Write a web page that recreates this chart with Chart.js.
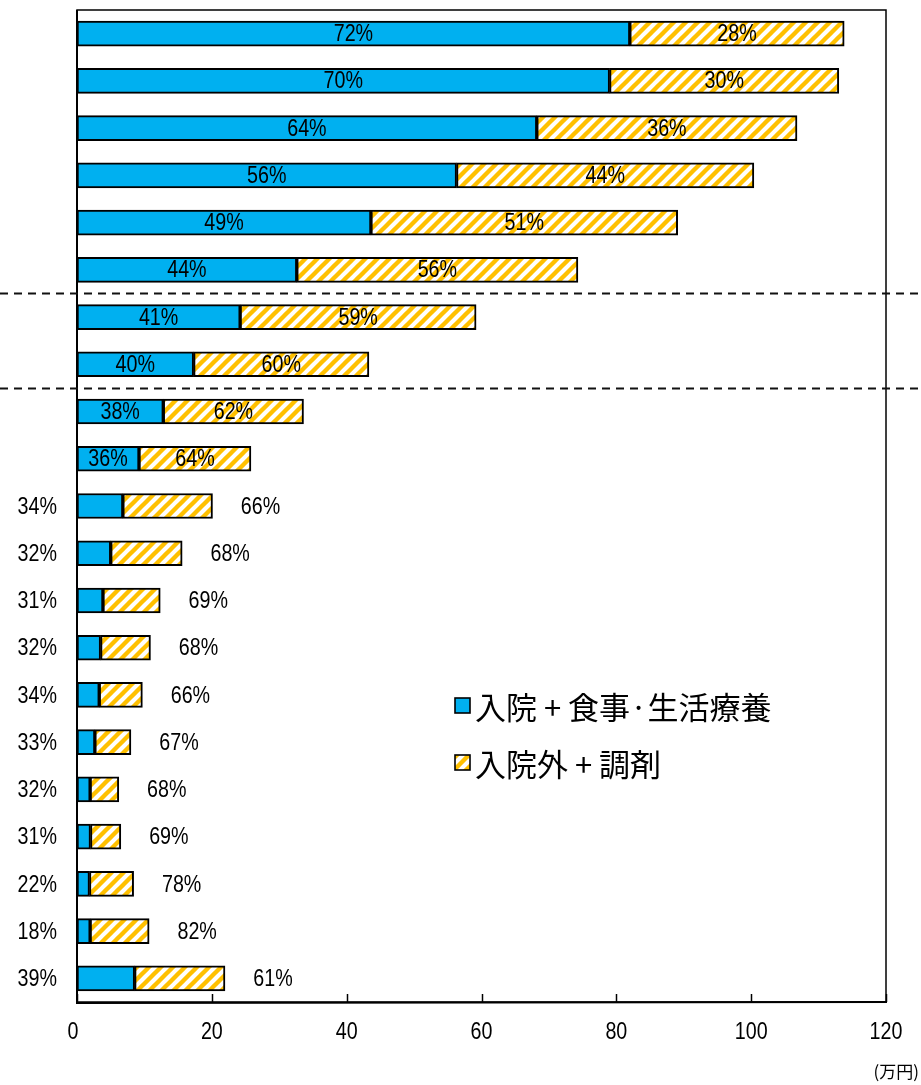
<!DOCTYPE html>
<html>
<head>
<meta charset="utf-8">
<script src="https://cdn.jsdelivr.net/npm/chart.js@4/dist/chart.umd.min.js"></script>
<style>
  html, body { margin: 0; padding: 0; background: #fff; }
  #wrap { position: relative; width: 921px; height: 1085px; }
  canvas { display: block; }
</style>
</head>
<body>
<div id="wrap"><canvas id="c" width="921" height="1085"></canvas></div>
<script>
// ---- data (万円) ----
const categories = ["1","2","3","4","5","6","7","8","9","10","11","12","13","14","15","16","17","18","19","20","21"];
const inpatientValues  = [82.0, 79.0, 68.2, 56.3, 43.6, 32.6, 24.2, 17.3, 12.8, 9.2, 6.8, 5.0, 3.85, 3.5, 3.3, 2.65, 1.95, 2.0, 1.85, 1.95, 8.55];
const outpatientValues = [31.8, 34.0, 38.6, 44.1, 45.5, 41.7, 35.0, 26.0, 20.8, 16.6, 13.3, 10.6, 8.5, 7.4, 6.4, 5.35, 4.25, 4.5, 6.55, 8.75, 13.4];
const inpatientPct  = ["72%","70%","64%","56%","49%","44%","41%","40%","38%","36%","34%","32%","31%","32%","34%","33%","32%","31%","22%","18%","39%"];
const outpatientPct = ["28%","30%","36%","44%","51%","56%","59%","60%","62%","64%","66%","68%","69%","68%","66%","67%","68%","69%","78%","82%","61%"];
const xTicks = [0, 20, 40, 60, 80, 100, 120];
const legendLabels = ["入院 + 食事·生活療養", "入院外 + 調剤"];
const unitLabel = "(万円)";
const dividerAfter = [5, 7];   // dashed separators after these category indexes
const insideLabelCount = 10;    // first N bars carry labels inside

const BLUE = "#00B0F0";
const ORANGE = "#FFC000";
const NUM_FONT = "'Liberation Sans', Arial, sans-serif";
const CJK_FONT = "'Noto Sans CJK JP', 'Noto Sans CJK SC', sans-serif";
const NARROW = 0.82;

function makeHatch() {
  const s = 12;
  const p = document.createElement("canvas");
  p.width = s; p.height = s;
  const g = p.getContext("2d");
  g.fillStyle = "#fff";
  g.fillRect(0, 0, s, s);
  g.strokeStyle = ORANGE;
  g.lineWidth = 4.4;
  g.lineCap = "square";
  for (let k = -1; k <= 1; k++) {
    g.beginPath();
    g.moveTo(k * s - 1, s + 1);
    g.lineTo(k * s + s + 1, -1);
    g.stroke();
  }
  return document.getElementById("c").getContext("2d").createPattern(p, "repeat");
}
const hatch = makeHatch();

function narrowText(ctx, text, x, y, align) {
  ctx.save();
  ctx.translate(x, y);
  ctx.scale(NARROW, 1);
  ctx.textAlign = align;
  ctx.fillText(text, 0, 0);
  ctx.restore();
}

const decor = {
  id: "decor",
  afterDatasetsDraw(chart) {
    const ctx = chart.ctx;
    const ca = chart.chartArea;
    const xs = chart.scales.x, ys = chart.scales.y;
    ctx.save();

    // frame
    ctx.strokeStyle = "#000";
    ctx.lineWidth = 1.5;
    ctx.strokeRect(ca.left, ca.top, ca.right - ca.left, ca.bottom - ca.top);
    ctx.lineWidth = 2;
    ctx.beginPath();
    ctx.moveTo(ca.left, ca.top); ctx.lineTo(ca.left, ca.bottom + 1); ctx.lineTo(ca.right + 1, ca.bottom);
    ctx.stroke();

    // inner tick marks + tick labels
    ctx.lineWidth = 1.5;
    ctx.fillStyle = "#000";
    ctx.font = "24px " + NUM_FONT;
    ctx.textBaseline = "middle";
    xs.ticks.forEach(t => {
      const px = xs.getPixelForValue(t.value);
      const x = Math.round(px) + 0.5;
      ctx.beginPath(); ctx.moveTo(x, ca.bottom); ctx.lineTo(x, ca.bottom - 8); ctx.stroke();
      narrowText(ctx, String(t.value), px - (t.value === 0 ? 4 : 0), ca.bottom + 30, "center");
    });

    // dashed separators
    ctx.setLineDash([8, 6]);
    ctx.lineWidth = 1.8;
    ctx.strokeStyle = "#111";
    dividerAfter.forEach(i => {
      const y = Math.round((ys.getPixelForValue(i) + ys.getPixelForValue(i + 1)) / 2) + 0.5;
      ctx.beginPath(); ctx.moveTo(0, y); ctx.lineTo(chart.width, y); ctx.stroke();
    });
    ctx.setLineDash([]);

    // value labels
    const m0 = chart.getDatasetMeta(0).data, m1 = chart.getDatasetMeta(1).data;
    ctx.fillStyle = "#000";
    ctx.font = "24px " + NUM_FONT;
    ctx.textBaseline = "middle";
    categories.forEach((c, i) => {
      const b0 = m0[i], b1 = m1[i];
      const y = b0.y + 1;
      if (i < insideLabelCount) {
        narrowText(ctx, inpatientPct[i], (b0.base + b0.x) / 2, y, "center");
        narrowText(ctx, outpatientPct[i], (b1.base + b1.x) / 2, y, "center");
      } else {
        narrowText(ctx, inpatientPct[i], 57, y, "right");
        narrowText(ctx, outpatientPct[i], b1.x + 48, y, "center");
      }
    });

    // legend
    const lx = 455, ly = [706, 763];
    [BLUE, hatch].forEach((fill, k) => {
      ctx.fillStyle = fill;
      ctx.fillRect(lx, ly[k] - 8, 15, 15);
      ctx.strokeStyle = "#000";
      ctx.lineWidth = 1.6;
      ctx.strokeRect(lx, ly[k] - 8, 15, 15);
      ctx.fillStyle = "#000";
      ctx.font = "31px " + CJK_FONT;
      ctx.textAlign = "left";
      ctx.textBaseline = "middle";
      ctx.fillText(legendLabels[k], lx + 20, ly[k] + 1);
    });

    // unit
    ctx.font = "17px " + CJK_FONT;
    ctx.textAlign = "right";
    ctx.fillText(unitLabel, 919, 1072);
    ctx.restore();
  }
};

new Chart(document.getElementById("c"), {
  type: "bar",
  data: {
    labels: categories,
    datasets: [
      { label: legendLabels[0], data: inpatientValues, backgroundColor: BLUE,
        borderColor: "#000", borderWidth: 2, borderSkipped: false, barThickness: 25 },
      { label: legendLabels[1], data: outpatientValues, backgroundColor: hatch,
        borderColor: "#000", borderWidth: 2, borderSkipped: false, barThickness: 25 }
    ]
  },
  options: {
    indexAxis: "y",
    responsive: false,
    animation: false,
    layout: { padding: { left: 77, right: 35, top: 10, bottom: 0 } },
    plugins: { legend: { display: false }, tooltip: { enabled: false } },
    scales: {
      y: { stacked: true, display: false },
      x: {
        stacked: true, min: 0, max: 120,
        afterBuildTicks: s => { s.ticks = xTicks.map(v => ({ value: v })); },
        afterFit: s => { s.height = 83; },
        grid: { display: false, drawTicks: false },
        border: { display: false },
        ticks: { display: false }
      }
    }
  },
  plugins: [decor]
});
</script>
</body>
</html>
